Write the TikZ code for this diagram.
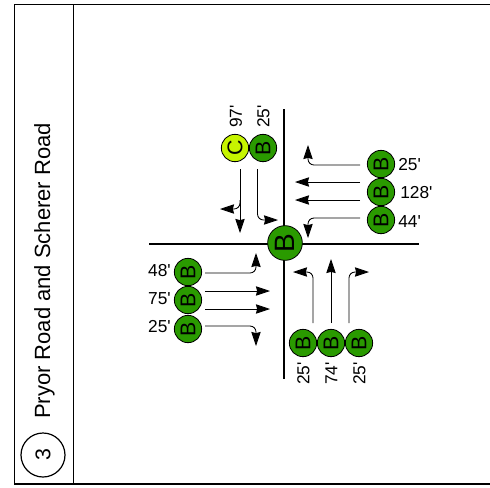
\documentclass[tikz,border=0pt]{standalone}
\usepackage{fontspec}
\setmainfont{Liberation Sans}
\newfontfamily\plainsans{Liberation Sans}
\usetikzlibrary{arrows.meta}
\definecolor{lsb}{HTML}{2A9A00}
\definecolor{lsc}{HTML}{C6F400}
\tikzset{
  x=0.75pt,y=-0.75pt,
  frameline/.style={draw=black,line width=1.4pt},
  road/.style={draw=black,line width=1.5pt},
  mv/.style={draw=black,line width=0.65pt,rounded corners=4.5pt,-{Stealth[length=10.5pt,width=7pt,inset=0.8pt]}},
  los/.style={circle,draw=black,line width=0.6pt,minimum size=20.5pt,inner sep=0pt,rotate=90,font=\fontsize{16}{16}\selectfont},
  losb/.style={los,fill=lsb},
  losc/.style={los,fill=lsc},
  losbig/.style={circle,draw=black,line width=0.6pt,fill=lsb,minimum size=26pt,inner sep=0pt,rotate=90,font=\fontsize{21}{21}\selectfont},
  dist/.style={font=\plainsans\fontsize{13}{13}\selectfont,inner sep=0pt},
  vdist/.style={dist,rotate=90},
}
\begin{document}
\begin{tikzpicture}
\useasboundingbox (0,0) rectangle (490,487);
% frame
\coordinate (fa) at (14.5,4.5);
\coordinate (fb) at (490,4.5);
\coordinate (fc) at (490,484);
\coordinate (fd) at (14.5,484);
\coordinate (da) at (73.5,4.5);
\coordinate (db) at (73.5,484);
\draw[frameline] (fb) -- (fa) -- (fd) -- (fc);
\draw[frameline] (da) -- (db);
\node[circle,draw=black,line width=0.9pt,minimum size=33pt,inner sep=0pt,rotate=90,font=\fontsize{16}{16}\selectfont] (num) at (43,455) {3};
\node[rotate=90,font=\fontsize{16.5}{16.5}\selectfont,inner sep=0pt] (title) at (44.5,271) {Pryor Road and Scherer Road};
% roads
\coordinate (rn) at (284,109);
\coordinate (rs) at (284,379);
\coordinate (rw) at (149,244);
\coordinate (re) at (419,244);
\draw[road] (rn) -- (rs);
\draw[road] (rw) -- (re);
\node[losbig] (ctr) at (285,243) {B};
% LOS nodes
\node[losc] (nl) at (235,148) {C};
\node[losb] (nr) at (263,148) {B};
\node[losb] (e1) at (381,164) {B};
\node[losb] (e2) at (381,192) {B};
\node[losb] (e3) at (381,220) {B};
\node[losb] (w1) at (188,272) {B};
\node[losb] (w2) at (188,300) {B};
\node[losb] (w3) at (188,329) {B};
\node[losb] (s1) at (303,343) {B};
\node[losb] (s2) at (331,343) {B};
\node[losb] (s3) at (359,343) {B};
% distances
\node[vdist,anchor=west] (dnl) at (236,128) {97'};
\node[vdist,anchor=west] (dnr) at (263.5,128) {25'};
\node[dist,anchor=west] (de1) at (398,165) {25'};
\node[dist,anchor=west] (de2) at (400,193) {128'};
\node[dist,anchor=west] (de3) at (398,222) {44'};
\node[dist,anchor=east] (dw1) at (171,271) {48'};
\node[dist,anchor=east] (dw2) at (171,299) {75'};
\node[dist,anchor=east] (dw3) at (171,327) {25'};
\node[vdist,anchor=east] (ds1) at (303.5,362) {25'};
\node[vdist,anchor=east] (ds2) at (331.5,362) {74'};
\node[vdist,anchor=east] (ds3) at (359.5,362) {25'};
% north approach
\coordinate (a1) at (240,169); \coordinate (a1e) at (240,233);
\coordinate (a2) at (240,200); \coordinate (a2c) at (240,209); \coordinate (a2e) at (220,209);
\coordinate (a3) at (257.5,169); \coordinate (a3c) at (257.5,220); \coordinate (a3e) at (278,220);
\draw[mv] (a1) -- (a1e);
\draw[mv] (a2) -- (a2c) -- (a2e);
\draw[mv] (a3) -- (a3c) -- (a3e);
% east approach
\coordinate (b1) at (360,165); \coordinate (b1c) at (308,165); \coordinate (b1e) at (308,145);
\coordinate (b2) at (360,182); \coordinate (b2e) at (295,182);
\coordinate (b3) at (360,200); \coordinate (b3e) at (295,200);
\coordinate (b4) at (360,218); \coordinate (b4c) at (308,218); \coordinate (b4e) at (308,238);
\draw[mv] (b1) -- (b1c) -- (b1e);
\draw[mv] (b2) -- (b2e);
\draw[mv] (b3) -- (b3e);
\draw[mv] (b4) -- (b4c) -- (b4e);
% west approach
\coordinate (c1) at (205,273); \coordinate (c1c) at (256,273); \coordinate (c1e) at (256,253);
\coordinate (c2) at (205,291); \coordinate (c2e) at (270,291);
\coordinate (c3) at (205,309); \coordinate (c3e) at (270,309);
\coordinate (c4) at (205,326); \coordinate (c4c) at (256,326); \coordinate (c4e) at (256,346);
\draw[mv] (c1) -- (c1c) -- (c1e);
\draw[mv] (c2) -- (c2e);
\draw[mv] (c3) -- (c3e);
\draw[mv] (c4) -- (c4c) -- (c4e);
% south approach
\coordinate (d1) at (313,323); \coordinate (d1c) at (313,272); \coordinate (d1e) at (293,272);
\coordinate (d2) at (331,323); \coordinate (d2e) at (331,259);
\coordinate (d3) at (349,323); \coordinate (d3c) at (349,272); \coordinate (d3e) at (369,272);
\draw[mv] (d1) -- (d1c) -- (d1e);
\draw[mv] (d2) -- (d2e);
\draw[mv] (d3) -- (d3c) -- (d3e);
\end{tikzpicture}
\end{document}
